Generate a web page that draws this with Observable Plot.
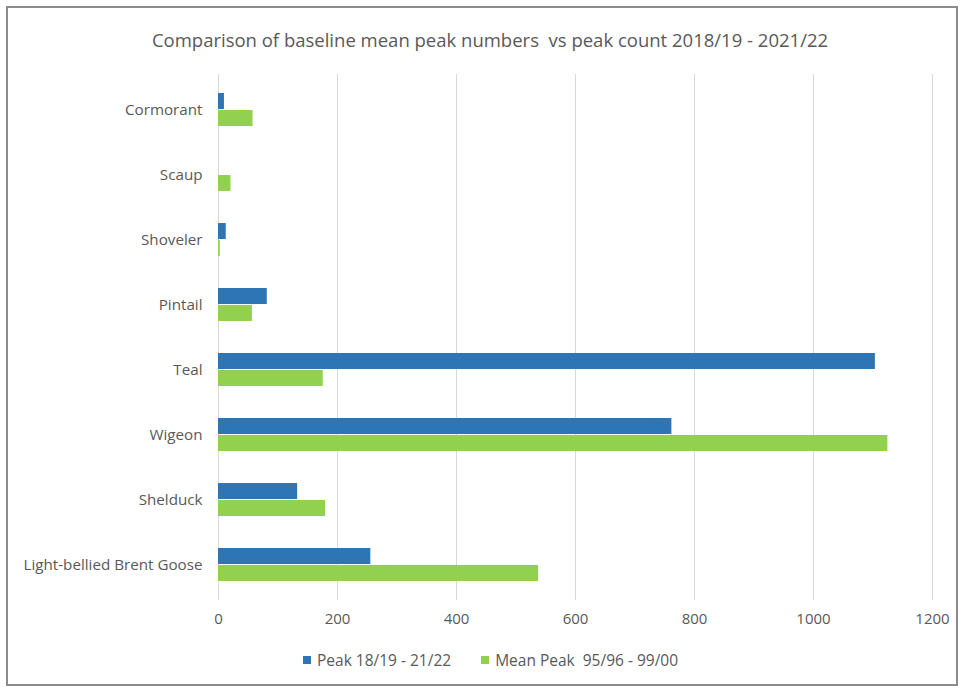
<!DOCTYPE html>
<html>
<head>
<meta charset="utf-8">
<script src="https://cdn.jsdelivr.net/npm/d3@7"></script>
<script src="https://cdn.jsdelivr.net/npm/@observablehq/plot@0.6"></script>
<style>
  html, body { margin: 0; padding: 0; background: #fff; }
  #frame { position: absolute; left: 6px; top: 6px; width: 952px; height: 680px; border: 2px solid #8c8c8c; box-sizing: border-box; }
  #title { position: absolute; left: 0; top: 27px; width: 980px; text-align: center; font-family: "Open Sans", sans-serif; font-size: 18.5px; color: #595959; }
  #chart { position: absolute; left: 0; top: 74px; }
  #legend { position: absolute; left: 303px; top: 649px; font-family: "Open Sans", sans-serif; font-size: 15.5px; color: #595959; display: flex; align-items: center; }
  .sw { display: inline-block; width: 8px; height: 8px; margin-right: 6px; }
  .item { display: flex; align-items: center; margin-right: 30px; }
</style>
</head>
<body>
<div id="frame"></div>
<div id="title">Comparison of baseline mean peak numbers&nbsp; vs peak count 2018/19 - 2021/22</div>
<div id="chart"></div>
<div id="legend"></div>
<script>
const species = ["Cormorant", "Scaup", "Shoveler", "Pintail", "Teal", "Wigeon", "Shelduck", "Light-bellied Brent Goose"];
const peak1819 = [10, 0, 13, 82, 1104, 762, 133, 256];
const meanPeak9596 = [58, 21, 3, 57, 176, 1125, 180, 538];
const seriesNames = ["Peak 18/19 - 21/22", "Mean Peak  95/96 - 99/00"];
const seriesColors = ["#2e75b6", "#92d050"];
const xTicks = [0, 200, 400, 600, 800, 1000, 1200];

const dataA = species.map((s, i) => ({species: s, value: peak1819[i]}));
const dataB = species.map((s, i) => ({species: s, value: meanPeak9596[i]}));

const chart = Plot.plot({
  width: 962,
  height: 566,
  marginLeft: 218,
  marginRight: 30,
  marginTop: 0,
  marginBottom: 40,
  style: {fontFamily: "Open Sans, sans-serif", fontSize: "15px", color: "#595959", background: "transparent"},
  x: {domain: [0, 1200], ticks: xTicks, label: null},
  y: {domain: species, padding: 0, label: null},
  marks: [
    Plot.ruleX(xTicks, {stroke: "#d9d9d9", strokeWidth: 1}),
    Plot.barX(dataA, {x: "value", y: "species", fill: seriesColors[0], insetTop: 16, insetBottom: 33}),
    Plot.barX(dataB, {x: "value", y: "species", fill: seriesColors[1], insetTop: 33, insetBottom: 16}),
    Plot.axisX({ticks: xTicks, tickFormat: d => String(d), tickSize: 0, tickPadding: 13, fill: "#595959", fontSize: 15, label: null}),
    Plot.axisY({tickSize: 0, tickPadding: 16, fill: "#595959", fontSize: 15.2, label: null})
  ]
});
document.getElementById("chart").appendChild(chart);

const legend = document.getElementById("legend");
seriesNames.forEach((n, i) => {
  const it = document.createElement("div");
  it.className = "item";
  const sw = document.createElement("span");
  sw.className = "sw";
  sw.style.background = seriesColors[i];
  const t = document.createElement("span");
  t.textContent = n;
  t.style.whiteSpace = "pre";
  it.appendChild(sw); it.appendChild(t);
  legend.appendChild(it);
});
</script>
</body>
</html>
